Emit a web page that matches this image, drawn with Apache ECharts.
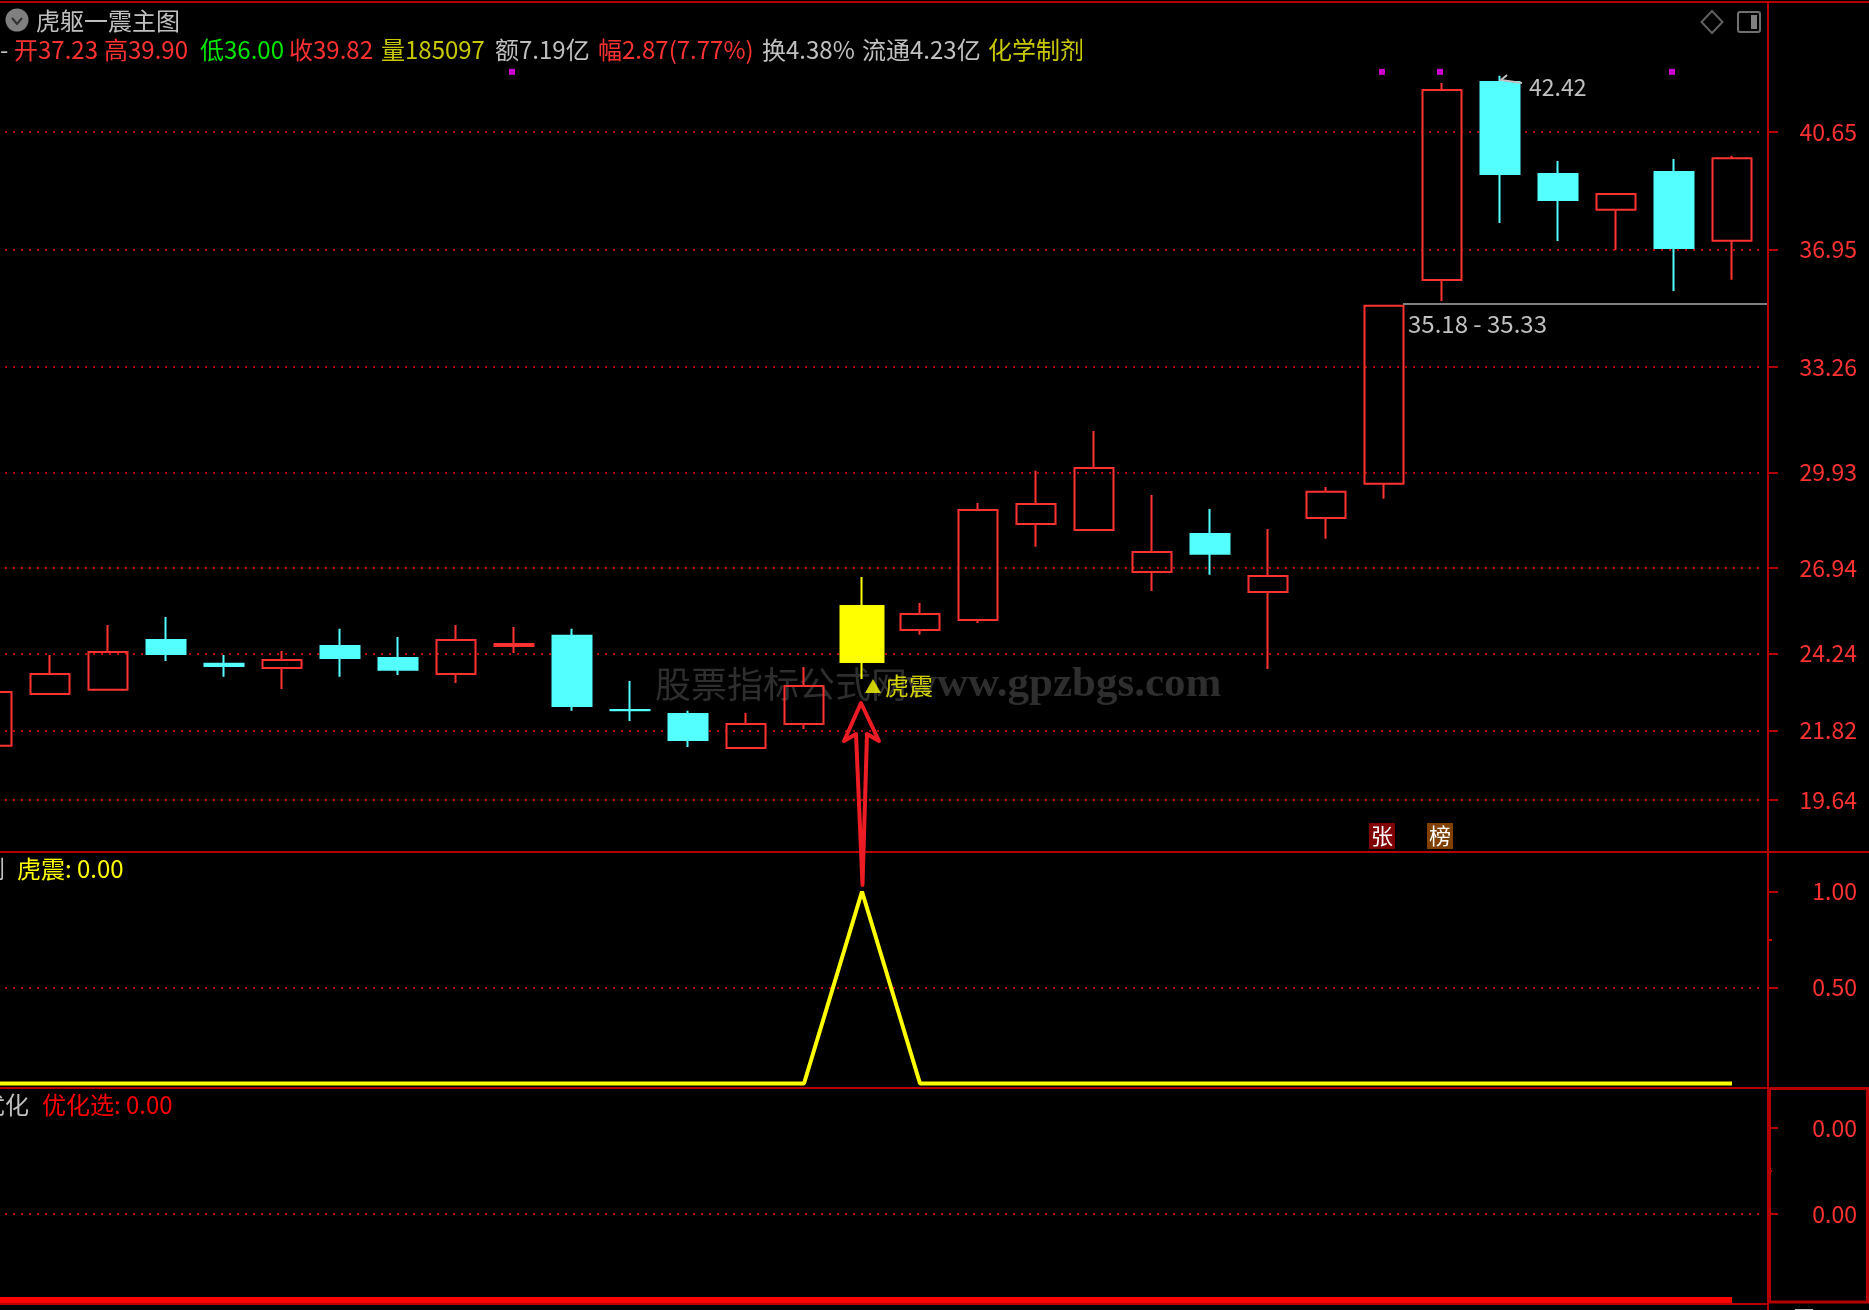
<!DOCTYPE html>
<html><head><meta charset="utf-8">
<style>html,body{margin:0;padding:0;background:#000}#c{width:1869px;height:1310px}</style>
<script src="https://cdn.jsdelivr.net/npm/echarts@6/dist/echarts.min.js"></script>
</head><body><div id="c"></div>
<script>
const categories = ['K01','K02','K03','K04','K05','K06','K07','K08','K09','K10','K11','K12','K13','K14','K15','K16','K17','K18','K19','K20','K21','K22','K23','K24','K25','K26','K27','K28','K29','K30','K31',''];
// [open, close, low, high]
const candles = [
 [21.34,23.03,21.34,23.03],[22.97,23.60,22.97,24.20],[23.10,24.29,23.10,25.14],[24.67,24.23,24.01,25.39],
 [23.92,23.85,23.51,24.20],[23.79,24.04,23.13,24.32],[24.48,24.10,23.51,25.02],[24.10,23.73,23.57,24.76],
 [23.60,24.67,23.32,25.14],[24.48,24.54,24.26,25.08],[24.80,22.59,22.44,25.02],[22.47,22.46,22.12,23.38],
 [22.34,21.52,21.30,22.44],[21.27,22.03,21.27,22.37],[22.03,23.22,21.87,23.82],['-','-','-','-'],
 [24.98,25.49,24.83,25.83],[25.30,28.76,25.20,28.98],[28.32,28.95,27.60,29.99],[28.13,30.08,28.13,31.24],
 [26.81,27.44,26.21,29.23],[28.00,27.38,26.72,28.79],[26.18,26.68,23.76,28.16],[28.51,29.33,27.85,29.48],
 [29.58,35.18,29.11,35.18],[35.99,41.97,35.33,42.19],[42.22,39.33,37.79,42.42],[39.33,38.51,37.22,39.74],
 [38.20,38.70,36.94,38.70],[39.39,37.00,35.65,39.80],[37.23,39.82,36.00,39.90]
];
const signalCandle = [['-','-','-','-'],['-','-','-','-'],['-','-','-','-'],['-','-','-','-'],['-','-','-','-'],['-','-','-','-'],['-','-','-','-'],['-','-','-','-'],['-','-','-','-'],['-','-','-','-'],['-','-','-','-'],['-','-','-','-'],['-','-','-','-'],['-','-','-','-'],['-','-','-','-'],
 [23.98,25.74,23.44,26.65]];
const magentaDots = [['K10',42.54],['K25',42.54],['K26',42.54],['K30',42.54]];
const tigerMark = [['K16',23.22]];
const tigerLine = [0,0,0,0,0,0,0,0,0,0,0,0,0,0,0,1,0,0,0,0,0,0,0,0,0,0,0,0,0,0,0];
const optLine   = [0,0,0,0,0,0,0,0,0,0,0,0,0,0,0,0,0,0,0,0,0,0,0,0,0,0,0,0,0,0,0];
const mainTicks = [40.65,36.95,33.26,29.93,26.94,24.24,21.82,19.64];
const tigerTicks = [1.00,0.50];
const tigerMinor = [0.75];
const tigerGrid = [0.50];
const optTicks = [0.004,0.002];
const optMinor = [0.003];
const optGrid = [0.002];

const AXIS='#b40000', LBL='#ff3232', CY='#54ffff', GRAY='#c0c0c0', OLIVE='#c8c800';
const FONT="'Noto Sans CJK SC',sans-serif";
const headerSegs = [
 ['-',0,GRAY],['开37.23',14,LBL],['高39.90',104,LBL],['低36.00',200,'#00e600'],['收39.82',289,LBL],
 ['量185097',381,OLIVE],['额7.19亿',495,GRAY],['幅2.87(7.77%)',598,LBL],['换4.38%',762,GRAY],['流通4.23亿',862,GRAY],['化学制剂',988,OLIVE]
];
function txt(text,x,y,fill,size,align,z,family,weight){
 return {type:'text',z:z||50,style:{text,x,y,fill,font:(weight?weight+' ':'')+size+'px '+(family||FONT),textAlign:align||'left',textVerticalAlign:'middle'}};
}
function rect(x,y,w,h,fill,z){return {type:'rect',z:z||40,shape:{x,y,width:w,height:h},style:{fill}};}
function grid(left,top,width,height){return {left,top,width,height,containLabel:false,outerBoundsMode:'none'};}
function paneAxis(gi,min,max,ticks,len,label,split,withLine){
 return {type:'value',gridIndex:gi,position:'right',offset:9,min,max,
  axisLine:{show:!!withLine,onZero:false,lineStyle:{color:AXIS,width:2}},
  axisTick:{show:true,customValues:ticks,length:len,inside:false,lineStyle:{color:AXIS,width:2}},
  axisLabel:{show:!!label,customValues:ticks,color:LBL,fontFamily:FONT,fontSize:23,align:'right',margin:89,formatter:v=>v.toFixed(2),showMinLabel:true,showMaxLabel:true},
  splitLine:{show:!!split,lineStyle:{color:AXIS,width:2,type:[2,6]}}};
}
const M=[18.0,44.738], T=[-0.0234,1.2057], O=[-0.000093,0.00493];
const hiddenY=(gi,r)=>({type:'value',gridIndex:gi,min:r[0],max:r[1],show:false,splitLine:{show:false}});
const hiddenCat=gi=>({type:'category',gridIndex:gi,data:categories,show:false,boundaryGap:true});
const hiddenVal=gi=>({type:'value',gridIndex:gi,min:0,max:1,show:false,splitLine:{show:false}});

const option={
 animation:false,backgroundColor:'#000',
 grid:[grid(-37,2,1856,850),grid(-37,852,1856,236),grid(-37,1088,1856,216),
       grid(5,2,1754,850),grid(5,852,1754,236),grid(5,1088,1754,216)],
 xAxis:[hiddenCat(0),hiddenCat(1),hiddenCat(2),hiddenVal(3),hiddenVal(4),hiddenVal(5)],
 yAxis:[hiddenY(0,M),hiddenY(1,T),hiddenY(2,O),
  paneAxis(3,M[0],M[1],mainTicks,10,true,true,true),
  paneAxis(4,T[0],T[1],tigerTicks,10,true,false,true),
  paneAxis(4,T[0],T[1],tigerMinor,4,false,false,false),
  paneAxis(4,T[0],T[1],tigerGrid,0.01,false,true,false),
  paneAxis(5,O[0],O[1],optTicks,10,true,false,true),
  paneAxis(5,O[0],O[1],optMinor,4,false,false,false),
  paneAxis(5,O[0],O[1],optGrid,0.01,false,true,false)],
 graphic:{elements:[
  rect(0,1,1869,2,AXIS),rect(0,851,1869,2,AXIS),rect(0,1087,1768,2,AXIS),rect(0,1303,1768,2,AXIS),
  rect(1767,1305,2,5,AXIS),
  {type:'rect',z:41,shape:{x:1769.5,y:1088.5,width:98,height:213.5},style:{fill:'transparent',stroke:AXIS,lineWidth:3}},
  rect(1795,1309,18,1,GRAY),
  // title
  {type:'circle',z:50,shape:{cx:17,cy:20,r:11.5},style:{fill:'#808080'}},
  {type:'polyline',z:51,shape:{points:[[12,18],[17,24],[22,18]]},style:{stroke:'#303030',lineWidth:2,fill:'none'}},
  txt('虎躯一震主图',36,21,GRAY,24),
  ...headerSegs.map(s=>txt(s[0],s[1],50,s[2],24)),
  // top right icons
  {type:'polygon',z:50,shape:{points:[[1712,11],[1722.5,22],[1712,33],[1701.5,22]]},style:{fill:'none',stroke:'#606060',lineWidth:2}},
  {type:'rect',z:50,shape:{x:1738,y:12,width:22,height:20,r:2},style:{fill:'none',stroke:'#707070',lineWidth:2}},
  rect(1751,15,6,14,'#808080',50),
  // watermark
  txt('股票指标公式网',655,684,'#2e2e2e',36,'left',-1),
  txt('www.gpzbgs.com',906,685,'#2e2e2e',43,'left',-1,"'Liberation Serif'",'bold'),
  // annotations
  {type:'line',z:40,shape:{x1:1403,y1:304,x2:1767,y2:304},style:{stroke:'#808080',lineWidth:2}},
  txt('35.18 - 35.33',1408,324,GRAY,24),
  txt('42.42',1529,87,GRAY,23),
  {type:'polyline',z:60,shape:{points:[[1507,75],[1501,80],[1522,83]]},style:{stroke:GRAY,lineWidth:2,fill:'none'}},
  // hand-drawn arrow
  {type:'polygon',z:100,shape:{points:[[861,703],[879,741],[867,734],[862.5,885],[856,734],[844,741]]},style:{fill:'none',stroke:'#ed1c24',lineWidth:4,lineJoin:'round'}},
  // badges
  rect(1369,823,26,26,'#800000',50),txt('张',1382,836,'#fff',22,'center',51),
  rect(1427,823,26,26,'#804000',50),txt('榜',1440,836,'#fff',22,'center',51),
  // pane titles
  txt('剂',5,869,GRAY,24,'right'),
  txt('虎震: 0.00',17,869,'#ffff00',24),
  txt('优化',29,1105,GRAY,24,'right'),
  txt('优化选: 0.00',42,1105,'#ff0000',24)
 ]},
 series:[
  {name:'K',type:'candlestick',xAxisIndex:0,yAxisIndex:0,barWidth:40,clip:true,data:candles,
   itemStyle:{color:'transparent',color0:CY,borderColor:LBL,borderColor0:CY,borderWidth:2}},
  {name:'signal',type:'candlestick',xAxisIndex:0,yAxisIndex:0,barWidth:44,data:signalCandle,
   itemStyle:{color:'#ffff00',color0:'#ffff00',borderColor:'#ffff00',borderColor0:'#ffff00',borderWidth:2}},
  {name:'dots',type:'scatter',xAxisIndex:0,yAxisIndex:0,symbol:'rect',symbolSize:6,symbolOffset:[-2,0],data:magentaDots,itemStyle:{color:'#ff00ff'}},
  {name:'虎震标记',type:'scatter',xAxisIndex:0,yAxisIndex:0,symbol:'triangle',symbolSize:[16,14],symbolOffset:[11,0],data:tigerMark,itemStyle:{color:'#ffff00'},
   label:{show:true,position:'right',distance:4,formatter:'虎震',color:'#ffff00',fontSize:24,fontFamily:"'Noto Sans CJK SC'"}},
  {name:'虎震',type:'line',xAxisIndex:1,yAxisIndex:1,data:tigerLine,symbol:'none',lineStyle:{color:'#ffff00',width:4},clip:true},
  {name:'优化选',type:'line',xAxisIndex:2,yAxisIndex:2,data:optLine,symbol:'none',lineStyle:{color:'#ff0000',width:6},clip:true}
 ]
};
const chart=echarts.init(document.getElementById('c'),null,{renderer:'canvas',width:1869,height:1310});
chart.setOption(option);
</script></body></html>
